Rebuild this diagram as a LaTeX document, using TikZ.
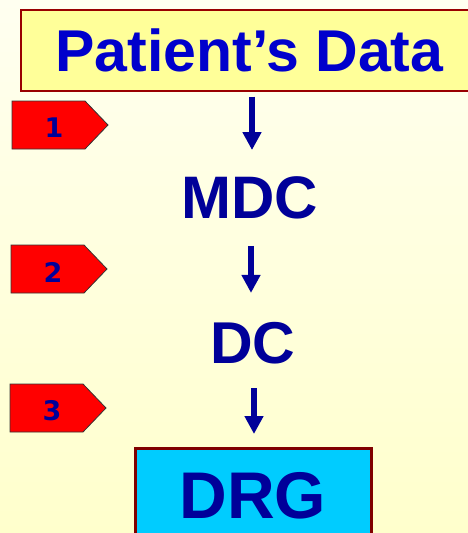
\documentclass[tikz,border=0pt]{standalone}
\usepackage{fontspec}
\setmainfont{Liberation Sans}
\newfontfamily\numfont{DejaVu Sans}
\usetikzlibrary{arrows.meta}

\definecolor{bgtop}{HTML}{FFFFF0}
\definecolor{bgbot}{HTML}{FFFFCC}
\definecolor{ink}{HTML}{000099}
\definecolor{titleink}{HTML}{0000CC}
\definecolor{boxyellow}{HTML}{FFFF99}
\definecolor{boxcyan}{HTML}{00CCFF}
\definecolor{frame}{HTML}{990000}
\definecolor{drgframe}{HTML}{800000}
\definecolor{tagred}{HTML}{FF0000}
\definecolor{tagedge}{HTML}{333333}

\tikzset{
  title/.style={font=\fontsize{59}{59}\selectfont\bfseries, text=titleink, inner sep=0pt},
  stage/.style={font=\fontsize{60}{60}\selectfont\bfseries, text=ink, inner sep=0pt},
  flow/.style={draw=ink, line width=5.5pt, -{Triangle[width=18pt,length=18pt]}},
  tagshape/.style={fill=tagred, draw=tagedge, line width=0.8pt, line join=miter},
  tagnum/.style={font=\numfont\fontsize{27}{27}\selectfont\bfseries, text=ink, inner sep=0pt}
}

\begin{document}
\begin{tikzpicture}[x=1pt, y=-1pt]
  \useasboundingbox (0,0) rectangle (468,533);
  \clip (0,0) rectangle (468,533);
  \shade[top color=bgtop, bottom color=bgbot] (0,0) rectangle (468,533);

  % header box
  \node[title, draw=frame, fill=boxyellow, line width=1.2pt,
        minimum width=457pt, minimum height=81pt] (pd) at (249.5,50.5) {Patient’s Data};

  % intermediate stages
  \node[stage] (mdc) at (250,197.5) {MDC};
  \node[stage, font=\fontsize{59}{59}\selectfont\bfseries] (dc) at (253,343) {DC};

  % result box
  \node[draw=drgframe, fill=boxcyan, line width=3pt, anchor=north,
        minimum width=236pt, minimum height=110pt, inner sep=0pt,
        font=\fontsize{66}{66}\selectfont\bfseries, text=ink,
        text height=48pt, text depth=18pt] (drg) at (253,447) {DRG};

  % flow arrows
  \draw[flow, shorten <=5pt, shorten >=26pt] ([xshift=2.5pt]pd.south) -- ([xshift=2pt]mdc.north);
  \draw[flow, shorten <=27pt, shorten >=29pt] ([xshift=1pt]mdc.south) -- ([xshift=-2pt]dc.north);
  \draw[flow, shorten <=24pt, shorten >=13pt] ([xshift=1pt]dc.south) -- ([xshift=1pt]drg.north);

  % numbered step tags
  \foreach \L/\T/\n in {12/101/1, 11/245/2, 10/384/3} {
    \draw[tagshape] (\L,\T) -- ({\L+73},\T) -- ({\L+96},{\T+24})
                    -- ({\L+73},{\T+48}) -- (\L,{\T+48}) -- cycle;
    \node[tagnum] (tag\n) at ({\L+42},{\T+27}) {\n};
  }
\end{tikzpicture}
\end{document}
